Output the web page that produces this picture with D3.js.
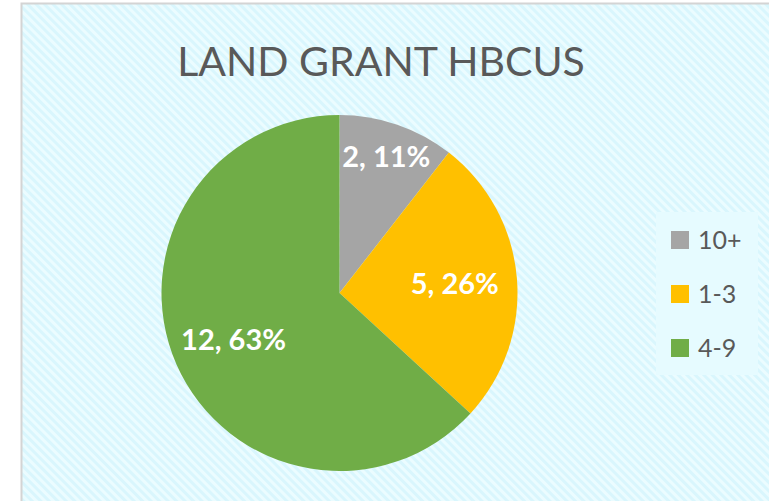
<!DOCTYPE html>
<html>
<head>
<meta charset="utf-8">
<script src="https://cdn.jsdelivr.net/npm/d3@7"></script>
<style>
  html, body { margin: 0; padding: 0; background: #ffffff; }
  svg { display: block; }
</style>
</head>
<body>
<div id="chart"></div>
<script>
// chart values
const title = "LAND GRANT HBCUS";
const categories = ["10+", "1-3", "4-9"];
const counts = [2, 5, 12];
const colours = ["#a5a5a5", "#ffc000", "#70ad47"];

const width = 769, height = 501;

const svg = d3.select("#chart")
  .append("svg")
  .attr("width", width)
  .attr("height", height);

// diagonal stripe fill like the Excel chart area texture
const defs = svg.append("defs");
const pat = defs.append("pattern")
  .attr("id", "stripes")
  .attr("patternUnits", "userSpaceOnUse")
  .attr("width", 6)
  .attr("height", 6)
  .attr("patternTransform", "rotate(-45)");
pat.append("rect").attr("width", 6).attr("height", 6).attr("fill", "#d9f6fd");
pat.append("rect").attr("width", 3).attr("height", 6).attr("fill", "#ebfcff");

// chart area
svg.append("rect")
  .attr("x", 21.5)
  .attr("y", 3.5)
  .attr("width", width)
  .attr("height", height)
  .attr("fill", "url(#stripes)")
  .attr("stroke", "#d4d4d4")
  .attr("stroke-width", 2);

svg.append("text")
  .attr("x", 381)
  .attr("y", 76)
  .attr("text-anchor", "middle")
  .attr("font-family", "Lato, sans-serif")
  .attr("font-size", 41)
  .attr("fill", "#595959")
  .text(title);

// pie
const cx = 339.5, cy = 293, radius = 178;
const total = d3.sum(counts);
const slices = categories.map((c, i) => ({ name: c, value: counts[i], colour: colours[i] }));

const pie = d3.pie().value(d => d.value).sort(null);
const arc = d3.arc().innerRadius(0).outerRadius(radius);
const arcs = pie(slices);

const g = svg.append("g").attr("transform", `translate(${cx},${cy})`);

g.selectAll("path")
  .data(arcs)
  .join("path")
  .attr("d", arc)
  .attr("fill", d => d.data.colour);

// best-fit labels: narrow slices push the label outwards
const labelRadius = d => (d.endAngle - d.startAngle) < 1 ? radius * 0.81 : radius * 0.65;
g.selectAll(".slice-label")
  .data(arcs)
  .join("text")
  .attr("class", "slice-label")
  .attr("transform", d => {
    const a = (d.startAngle + d.endAngle) / 2;
    const r = labelRadius(d);
    return `translate(${Math.sin(a) * r},${-Math.cos(a) * r})`;
  })
  .attr("text-anchor", "middle")
  .attr("dy", "0.36em")
  .attr("font-family", "Lato, sans-serif")
  .attr("font-weight", "bold")
  .attr("font-size", 29)
  .attr("fill", "#ffffff")
  .text(d => `${d.data.value}, ${Math.round(d.data.value / total * 100)}%`);

// legend
const legend = svg.append("g").attr("transform", "translate(656,212)");
legend.append("rect")
  .attr("width", 102)
  .attr("height", 163)
  .attr("fill", "#e6fbff");

const rowY = d3.scalePoint().domain(categories).range([28, 136]);
const item = legend.selectAll(".legend")
  .data(slices)
  .join("g")
  .attr("class", "legend")
  .attr("transform", d => `translate(0,${rowY(d.name)})`);

item.append("rect")
  .attr("x", 15)
  .attr("y", -9)
  .attr("width", 18)
  .attr("height", 18)
  .attr("fill", d => d.colour);

item.append("text")
  .attr("x", 42)
  .attr("dy", "0.36em")
  .attr("font-family", "Lato, sans-serif")
  .attr("font-size", 25)
  .attr("fill", "#595959")
  .text(d => d.name);
</script>
</body>
</html>
